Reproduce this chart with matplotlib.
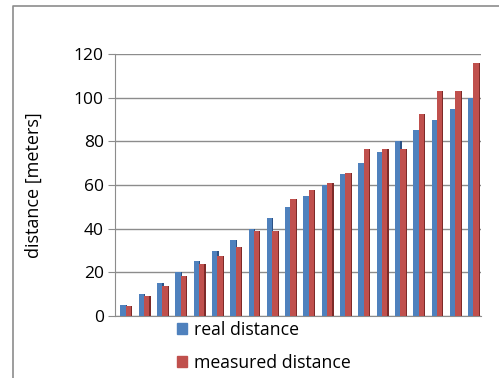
import numpy as np
import matplotlib
matplotlib.use("Agg")
import matplotlib.pyplot as plt
from matplotlib.lines import Line2D
from matplotlib.patches import Patch

# ── Data ──────────────────────────────────────────────────────────────
real_distance = [5, 10, 15, 20, 25, 30, 35, 40, 45, 50,
                 55, 60, 65, 70, 75, 80, 85, 90, 95, 100]
measured_distance = [4.5, 9.3, 13.8, 18.4, 23.6, 27.6, 31.6, 38.8, 38.8, 53.5,
                     57.8, 60.8, 65.4, 76.5, 76.5, 76.6, 92.5, 103.2, 103.2, 116.0]
y_ticks = [0, 20, 40, 60, 80, 100, 120]

BLUE = "#4f81bd"
BLUE_DARK = "#2c5285"
RED = "#c0504d"
RED_DARK = "#7d2a28"
GRID = "#8c8c8c"

plt.rcParams["font.family"] = ["Open Sans", "DejaVu Sans"]

fig = plt.figure(figsize=(4.99, 3.78), dpi=100)
ax = fig.add_axes([115 / 499, 1 - 316 / 378, 366 / 499, 262 / 378])

x = np.arange(len(real_distance))
w = 0.29
sh = 0.07
ax.bar(x - 0.2 + w / 2, real_distance, width=w, color=BLUE, zorder=3)
ax.bar(x - 0.2 + w + sh / 2, real_distance, width=sh, color=BLUE_DARK, zorder=2)
ax.bar(x + 0.09 + w / 2, measured_distance, width=w, color=RED, zorder=4)
ax.bar(x + 0.09 + w + sh / 2, measured_distance, width=sh, color=RED_DARK, zorder=4)

ax.set_xlim(-0.5, len(x) - 0.5)
ax.set_ylim(0, 120)
ax.set_yticks(y_ticks)
ax.set_xticks([])
ax.grid(axis="y", color=GRID, linewidth=1.0, zorder=0)
ax.set_axisbelow(True)
for s in ("top", "right"):
    ax.spines[s].set_visible(False)
for s in ("left", "bottom"):
    ax.spines[s].set_color(GRID)
ax.tick_params(axis="y", length=5, color=GRID, pad=3, labelsize=12.5, labelcolor="black")

ax.set_ylabel("distance [meters]", fontsize=13)
ax.yaxis.set_label_coords((43 - 115) / 366, 0.5)

fs = 12.7
handles = [Patch(color=BLUE), Patch(color=RED)]
fig.legend(handles, ["real distance", "measured distance"],
           loc="upper left", bbox_to_anchor=(177 / 499, 1 - 321 / 378),
           frameon=False, fontsize=fs, borderpad=0, borderaxespad=0,
           handlelength=10 / 17.6, handleheight=10 / 17.6,
           handletextpad=0.4, labelspacing=0.85)

# outer chart frame (left and top edges visible)
fig.add_artist(Line2D([13 / 499, 13 / 499, 1], [0, 1 - 6 / 378, 1 - 6 / 378],
                      transform=fig.transFigure, color=GRID, linewidth=1.2))

fig.savefig("out.png", dpi=100)
